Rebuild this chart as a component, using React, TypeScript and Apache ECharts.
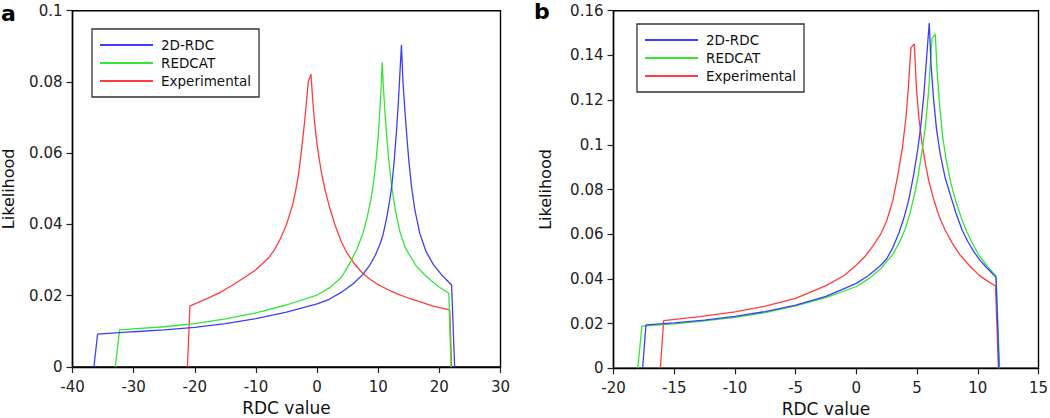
import React, { useEffect, useRef } from "react";
import * as echarts from "echarts";

const seriesNames = ["2D-RDC", "REDCAT", "Experimental"];
const seriesColors = ["#3d3dff", "#33e633", "#ff3d3d"];

// Panel a
const aTicksX = { min: -40, max: 30, interval: 10 };
const aTicksY = { min: 0, max: 0.1, interval: 0.02 };
const a2dRdc = [
  [-36.5, 0], [-35.9, 0.0092], [-30, 0.0099], [-25, 0.0104], [-20, 0.0111], [-15, 0.0122],
  [-10, 0.0136], [-5, 0.0154], [0, 0.0177], [2, 0.0190], [4, 0.0210], [6, 0.0235],
  [7.5, 0.0260], [8.6, 0.0285], [9.5, 0.0313], [10.3, 0.0345], [10.8, 0.0372],
  [11.4, 0.0420], [11.9, 0.0470], [12.2, 0.0506], [12.6, 0.0575], [13.0, 0.0665],
  [13.3, 0.0745], [13.55, 0.0825], [13.8, 0.0904], [14.05, 0.0800], [14.3, 0.0735],
  [14.6, 0.0665], [15.0, 0.0580], [15.45, 0.0506], [16.0, 0.0440], [16.8, 0.0375],
  [17.8, 0.0325], [19.0, 0.0288], [20.5, 0.0256], [22.0, 0.0230], [22.5, 0]
];
const aRedcat = [
  [-33, 0], [-32.3, 0.0104], [-25, 0.0113], [-20, 0.0122], [-15, 0.0135], [-10, 0.0152],
  [-5, 0.0174], [0, 0.0202], [2, 0.0222], [4, 0.0252], [5.4, 0.0293], [6.5, 0.0330],
  [7.5, 0.0375], [8.2, 0.0420], [8.8, 0.0470], [9.2, 0.0515], [9.6, 0.0570],
  [10.0, 0.0646], [10.3, 0.0730], [10.5, 0.0790], [10.65, 0.0855], [10.85, 0.0785],
  [11.1, 0.0715], [11.37, 0.0650], [11.7, 0.0585], [12.18, 0.0510], [12.8, 0.0440],
  [13.54, 0.0380], [14.5, 0.0332], [16.27, 0.0282], [18, 0.0252], [20, 0.0224],
  [21.55, 0.0207], [21.9, 0]
];
const aExperimental = [
  [-21.2, 0], [-20.8, 0.0171], [-20, 0.0177], [-18, 0.0192], [-16, 0.0208], [-14, 0.0228],
  [-12, 0.0250], [-10, 0.0273], [-8, 0.0305], [-7, 0.0328], [-6, 0.0360], [-5, 0.0400],
  [-4, 0.0455], [-3.5, 0.0495], [-3, 0.0545], [-2.5, 0.0615], [-2, 0.0695],
  [-1.7, 0.0750], [-1.45, 0.0800], [-1.0, 0.0822], [-0.7, 0.0745], [-0.4, 0.0685],
  [0, 0.0625], [0.4, 0.0578], [0.8, 0.0538], [1.4, 0.0490], [2.1, 0.0445], [3.0, 0.0395],
  [4.0, 0.0350], [4.83, 0.0322], [6.0, 0.0292], [7.3, 0.0266], [8.6, 0.0247], [10, 0.0231],
  [11.4, 0.0219], [13, 0.0206], [15, 0.0193], [17, 0.0182], [19, 0.0171], [21.7, 0.0160],
  [22.0, 0]
];

// Panel b
const bTicksX = { min: -20, max: 15, interval: 5 };
const bTicksY = { min: 0, max: 0.16, interval: 0.02 };
const b2dRdc = [
  [-17.6, 0], [-17.33, 0.0194], [-15, 0.0203], [-12.5, 0.0216], [-10, 0.0232],
  [-7.5, 0.0254], [-5, 0.0283], [-2.5, 0.0322], [0, 0.0380], [1, 0.0415], [2, 0.0460],
  [2.5, 0.0490], [3.0, 0.0540], [3.5, 0.0604], [3.9, 0.0670], [4.3, 0.0750],
  [4.7, 0.0860], [5.05, 0.0977], [5.3, 0.1080], [5.55, 0.1220], [5.8, 0.1400],
  [6.0, 0.1545], [6.15, 0.1360], [6.35, 0.1210], [6.6, 0.1070], [6.9, 0.0960],
  [7.3, 0.0855], [7.8, 0.0765], [8.2, 0.0695], [8.7, 0.0620], [9.2, 0.0565],
  [9.7, 0.0520], [10.2, 0.0482], [10.7, 0.0452], [11.1, 0.0430], [11.5, 0.0407],
  [11.75, 0]
];
const bRedcat = [
  [-18.0, 0], [-17.66, 0.0189], [-15, 0.0199], [-12.5, 0.0212], [-10, 0.0228],
  [-7.5, 0.0249], [-5, 0.0279], [-2.5, 0.0316], [0, 0.0366], [1, 0.0400], [2, 0.0445],
  [3.0, 0.0510], [3.5, 0.0559], [4.0, 0.0620], [4.4, 0.0690], [4.8, 0.0780],
  [5.1, 0.0865], [5.46, 0.0990], [5.7, 0.1090], [5.95, 0.1240], [6.23, 0.1476],
  [6.5, 0.1496], [6.65, 0.1330], [6.85, 0.1180], [7.1, 0.1040], [7.4, 0.0930],
  [7.8, 0.0825], [8.2, 0.0745], [8.6, 0.0680], [9.1, 0.0610], [9.6, 0.0555],
  [10.1, 0.0505], [10.6, 0.0470], [11.0, 0.0443], [11.5, 0.0412], [11.8, 0]
];
const bExperimental = [
  [-16.14, 0], [-15.87, 0.0213], [-12.9, 0.0231], [-10, 0.0252], [-7.5, 0.0278],
  [-5, 0.0313], [-2.5, 0.0370], [-1, 0.0415], [0, 0.0462], [0.7, 0.0500], [1.4, 0.0550],
  [2.0, 0.0600], [2.5, 0.0660], [3.0, 0.0750], [3.4, 0.0860], [3.8, 0.0990],
  [4.1, 0.1130], [4.3, 0.1270], [4.5, 0.1436], [4.77, 0.1451], [4.95, 0.1250],
  [5.15, 0.1120], [5.4, 0.1010], [5.7, 0.0910], [6.0, 0.0830], [6.4, 0.0750],
  [6.83, 0.0678], [7.3, 0.0620], [7.9, 0.0560], [8.5, 0.0510], [9.3, 0.0460],
  [10.1, 0.0417], [10.8, 0.0390], [11.46, 0.0368], [11.7, 0]
];

const FONT = "DejaVu Sans";

function makeAxes(gridIndex: number, tx: any, ty: any, xNameGap: number, yNameGap: number) {
  const common = {
    gridIndex,
    type: "value" as const,
    splitLine: { show: false },
    axisLine: { show: true, onZero: false, lineStyle: { color: "#000", width: 1.4 } },
    axisTick: { show: true, length: 6, lineStyle: { color: "#222", width: 1.2 } },
    nameLocation: "middle" as const,
  };
  const x = {
    ...common, ...tx, name: "RDC value", nameGap: xNameGap,
    axisLabel: { color: "#222", fontSize: 15, fontFamily: FONT, margin: 12 },
    nameTextStyle: { color: "#111", fontSize: 17, fontFamily: FONT },
  };
  const y = {
    ...common, ...ty, name: "Likelihood", nameGap: yNameGap,
    axisLabel: { color: "#222", fontSize: 15, fontFamily: FONT, margin: 10 },
    nameTextStyle: { color: "#111", fontSize: 16, fontFamily: FONT },
  };
  return { x, y };
}

export default function App() {
  const ref = useRef<HTMLDivElement>(null);
  useEffect(() => {
    if (!ref.current) return;
    const chart = echarts.init(ref.current, null, { renderer: "svg" });
    const A = makeAxes(0, aTicksX, aTicksY, 32.5, 56);
    const B = makeAxes(1, bTicksX, bTicksY, 31.5, 60);
    const panelData = [[a2dRdc, aRedcat, aExperimental], [b2dRdc, bRedcat, bExperimental]];
    const series: any[] = [];
    panelData.forEach((list, p) => {
      list.forEach((d, i) => {
        series.push({
          type: "line",
          name: seriesNames[i],
          xAxisIndex: p,
          yAxisIndex: p,
          data: d,
          showSymbol: false,
          symbol: "none",
          color: seriesColors[i],
          lineStyle: { width: 1.3, color: seriesColors[i] },
          z: 3 - i,
        });
      });
    });
    const legendCommon = {
      orient: "vertical" as const,
      data: seriesNames,
      icon: "rect",
      itemWidth: 53,
      itemHeight: 2,
      itemGap: 4,
      padding: [9, 8, 9, 8],
      borderColor: "#333",
      borderWidth: 1.3,
      selectedMode: false,
      textStyle: { color: "#111", fontSize: 13.5, fontFamily: FONT, padding: [0, 0, 0, 3] },
    };
    const gridCommon = {
      show: true,
      borderColor: "#000",
      borderWidth: 1.4,
      backgroundColor: "transparent",
      containLabel: false,
      outerBoundsMode: "none",
    };
    chart.setOption({
      animation: false,
      backgroundColor: "#fff",
      textStyle: { fontFamily: FONT },
      grid: [
        { ...gridCommon, left: 72.5, top: 10.7, width: 428, height: 356.3 },
        { ...gridCommon, left: 613.5, top: 10.7, width: 425, height: 357.6 },
      ],
      xAxis: [A.x, B.x],
      yAxis: [A.y, B.y],
      legend: [
        { ...legendCommon, left: 92, top: 29 },
        { ...legendCommon, left: 637, top: 24 },
      ],
      graphic: [
        { type: "text", left: 1, top: 2, style: { text: "a", fontSize: 22, fontWeight: "bold", fontFamily: FONT, fill: "#000" } },
        { type: "text", left: 534, top: 0, style: { text: "b", fontSize: 22, fontWeight: "bold", fontFamily: FONT, fill: "#000" } },
      ],
      series,
    });
    return () => chart.dispose();
  }, []);
  return (
    <div
      ref={ref}
      style={{ position: "absolute", left: 0, top: 0, width: 1050, height: 418 }}
    />
  );
}
